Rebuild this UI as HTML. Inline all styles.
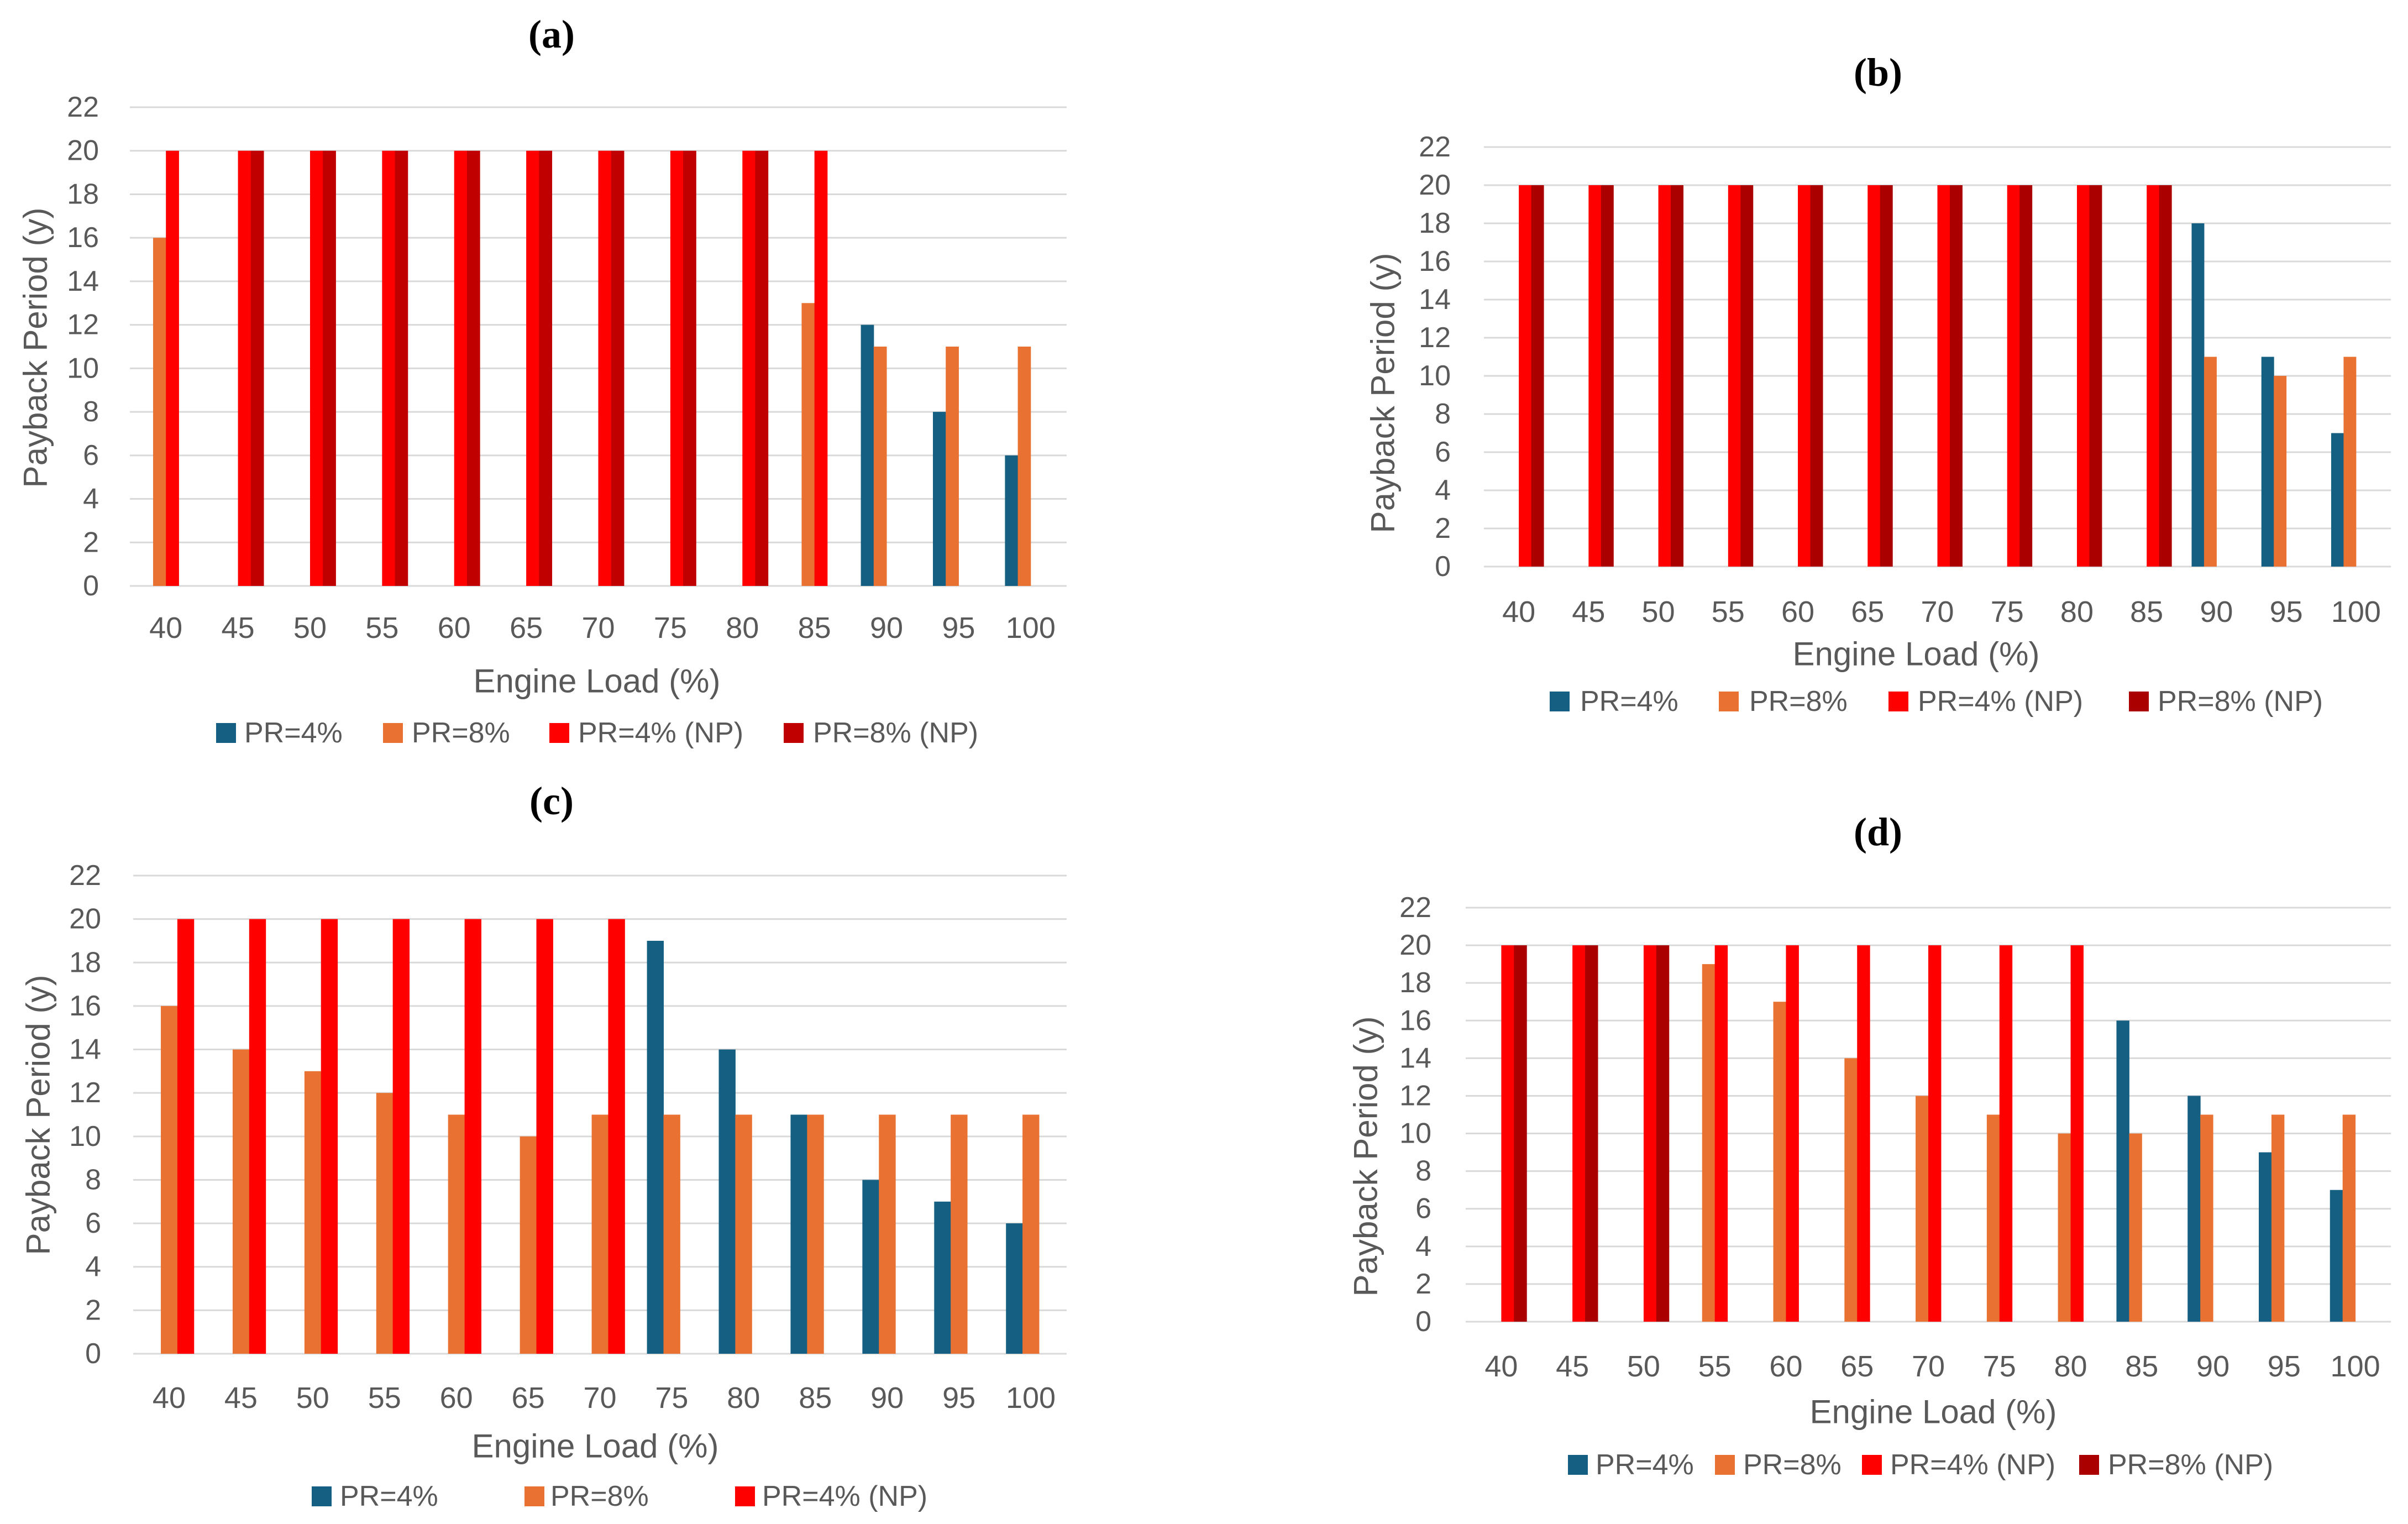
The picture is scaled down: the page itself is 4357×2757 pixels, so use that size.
<!DOCTYPE html>
<html><head><meta charset="utf-8"><style>
html,body{margin:0;padding:0;background:#fff;}
svg{display:block;}
text{font-family:"Liberation Sans",sans-serif;fill:#595959;}
.ttl{font-family:"Liberation Serif",serif;font-weight:bold;fill:#000;font-size:72px;}
</style></head><body>
<svg id="fig" width="4357" height="2757" viewBox="0 0 4357 2757" xmlns="http://www.w3.org/2000/svg"></svg>
<script>
const categories = ["40","45","50","55","60","65","70","75","80","85","90","95","100"];
const yTicks = [0,2,4,6,8,10,12,14,16,18,20,22];
const seriesNames = ["PR=4%","PR=8%","PR=4% (NP)","PR=8% (NP)"];
// chart (a)
const aBlue   = [0,0,0,0,0,0,0,0,0,0,12,8,6];
const aOrange = [16,0,0,0,0,0,0,0,0,13,11,11,11];
const aRed    = [20,20,20,20,20,20,20,20,20,20,0,0,0];
const aDark   = [0,20,20,20,20,20,20,20,20,0,0,0,0];
// chart (b)
const bBlue   = [0,0,0,0,0,0,0,0,0,0,18,11,7];
const bOrange = [0,0,0,0,0,0,0,0,0,0,11,10,11];
const bRed    = [20,20,20,20,20,20,20,20,20,20,0,0,0];
const bDark   = [20,20,20,20,20,20,20,20,20,20,0,0,0];
// chart (c)
const cBlue   = [0,0,0,0,0,0,0,19,14,11,8,7,6];
const cOrange = [16,14,13,12,11,10,11,11,11,11,11,11,11];
const cRed    = [20,20,20,20,20,20,20,0,0,0,0,0,0];
// chart (d)
const dBlue   = [0,0,0,0,0,0,0,0,0,16,12,9,7];
const dOrange = [0,0,0,19,17,14,12,11,10,10,11,11,11];
const dRed    = [20,20,20,20,20,20,20,20,20,0,0,0,0];
const dDark   = [20,20,20,0,0,0,0,0,0,0,0,0,0];

const NS="http://www.w3.org/2000/svg";
const svg=document.getElementById('fig');
function mk(tag,attrs,parent){const e=document.createElementNS(NS,tag);for(const k in attrs)e.setAttribute(k,attrs[k]);(parent||svg).appendChild(e);return e;}

const charts=[
 {id:'a',label:'(a)',tx:998,ty:62,L:235,R:1930,T:194,B:1060,tickR:179,ytX:64,ytY:629,xlY:1136,xtX:1080,xtY:1232,legY:1326,
  sq:[391,693,994,1418],tx2:[442,745,1046,1471],data:[aBlue,aOrange,aRed,aDark],colors:['#156082','#E97132','#FF0000','#C00000']},
 {id:'b',label:'(b)',tx:3398,ty:131,L:2685,R:4326,T:266,B:1025,tickR:2625,ytX:2502,ytY:711,xlY:1107,xtX:3467,xtY:1183,legY:1269,
  sq:[2804,3110,3417,3852],tx2:[2859,3165,3470,3904],data:[bBlue,bOrange,bRed,bDark],colors:['#156082','#E97132','#FF0000','#AA0000']},
 {id:'c',label:'(c)',tx:998,ty:1449,L:241,R:1930,T:1584,B:2449,tickR:183,ytX:69,ytY:2017,xlY:2529,xtX:1077,xtY:2616,legY:2707,
  sq:[564,949,1330],tx2:[615,996,1379],data:[cBlue,cOrange,cRed],colors:['#156082','#E97132','#FF0000']},
 {id:'d',label:'(d)',tx:3398,ty:1505,L:2652,R:4326,T:1642,B:2391,tickR:2590,ytX:2471,ytY:2092,xlY:2472,xtX:3498,xtY:2554,legY:2650,
  sq:[2837,3103,3369,3762],tx2:[2887,3154,3420,3814],data:[dBlue,dOrange,dRed,dDark],colors:['#156082','#E97132','#FF0000','#AA0000']}
];

charts.forEach(c=>{
  const g=mk('g',{});
  
  
  const t=mk('text',{x:c.tx,y:c.ty,'text-anchor':'middle','dominant-baseline':'central',class:'ttl'},g);
  t.textContent=c.label;
  
  
  const yMax=22;
  const yS=v=>c.B-(v/yMax)*(c.B-c.T);
  const cw=(c.R-c.L)/categories.length;
  const xC=i=>c.L+cw*(i+0.5);
  yTicks.forEach(v=>{
    const ln=mk('line',{x1:c.L,x2:c.R,y1:yS(v),y2:yS(v),stroke:'#D9D9D9','stroke-width':3},g);
    
    
    const tl=mk('text',{x:c.tickR,y:yS(v),'text-anchor':'end','dominant-baseline':'central','font-size':52},g);
    tl.textContent=v;
    
    
  });
  const n=c.data.length;
  const bw=n===4?cw*0.178:cw*0.23;
  c.data.forEach((arr,s)=>{
    arr.forEach((v,i)=>{
      if(!v)return;
      const x=xC(i)-n*bw/2+s*bw;
      const r=mk('rect',{x:x,y:yS(v),width:bw+0.5,height:yS(0)-yS(v),fill:c.colors[s]},g);
      
      
    });
  });
  categories.forEach((cat,i)=>{
    const tl=mk('text',{x:xC(i),y:c.xlY,'text-anchor':'middle','dominant-baseline':'central','font-size':54},g);
    tl.textContent=cat;
    
    
  });
  const yt=mk('text',{x:c.ytX,y:c.ytY,'text-anchor':'middle','dominant-baseline':'central','font-size':60,transform:'rotate(-90 '+c.ytX+' '+c.ytY+')'},g);
  yt.textContent='Payback Period (y)';
  
  
  const xt=mk('text',{x:c.xtX,y:c.xtY,'text-anchor':'middle','dominant-baseline':'central','font-size':60},g);
  xt.textContent='Engine Load (%)';
  
  
  c.sq.forEach((sx,s)=>{
    const le=mk('g',{},g);
    
    
    mk('rect',{x:sx,y:c.legY-18,width:36,height:36,fill:c.colors[s]},le);
    const lt=mk('text',{x:c.tx2[s],y:c.legY,'dominant-baseline':'central','font-size':52},le);
    lt.textContent=seriesNames[s];
  });
});
</script>
</body></html>
